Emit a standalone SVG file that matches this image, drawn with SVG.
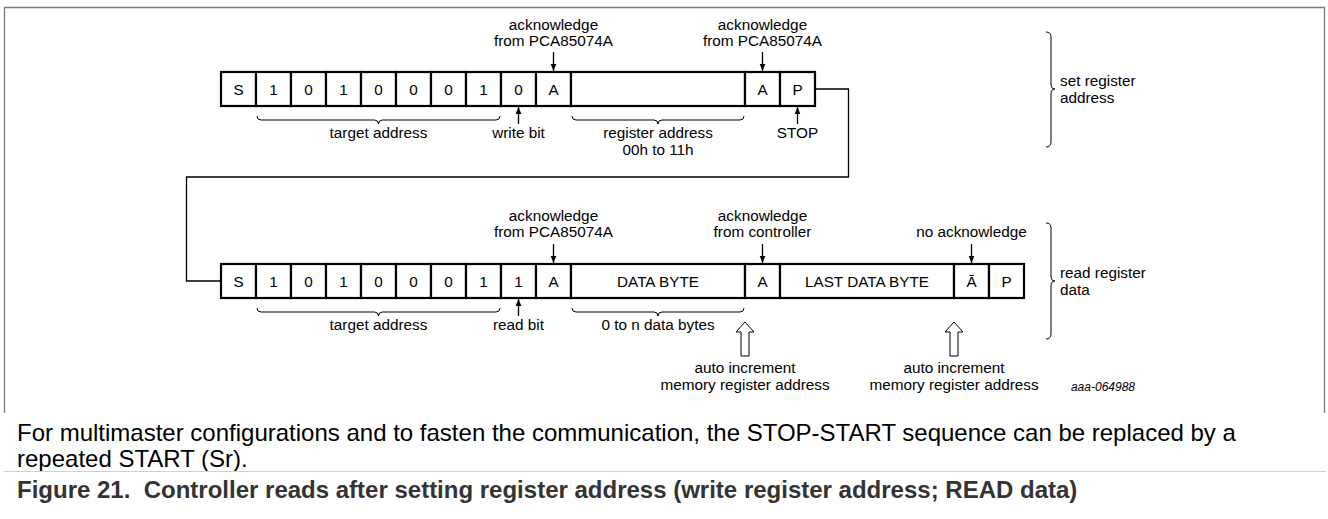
<svg xmlns="http://www.w3.org/2000/svg" width="1328" height="519" viewBox="0 0 1328 519">
<defs>
<style>
.t{font-family:"Liberation Sans",Arial,Helvetica,sans-serif;font-size:15.3px;fill:#000}
.c{text-anchor:middle}
.cell{fill:#fff;stroke:#000;stroke-width:2.2}
.ln{fill:none;stroke:#000;stroke-width:1.3}
.br{fill:none;stroke:#000;stroke-width:1}
.ho{fill:#fff;stroke:#000;stroke-width:1}
.body{font-family:"Liberation Sans",Arial,Helvetica,sans-serif;font-size:24px;fill:#000}
.cap{font-family:"Liberation Sans",Arial,Helvetica,sans-serif;font-size:24px;font-weight:bold;fill:#333;white-space:pre}
</style>
<marker id="ah" viewBox="0 0 8 8" refX="8" refY="4" markerWidth="7" markerHeight="7" markerUnits="userSpaceOnUse" orient="auto"><path d="M0,0.8 L8,4 L0,7.2 z" fill="#000"/></marker>
</defs>
<rect width="1328" height="519" fill="#fff"/>
<path d="M4.5,413 V7.5 H1324.5 V413" fill="none" stroke="#7a7a7a" stroke-width="1.3"/>

<g id="connectors">
<path class="ln" d="M815,89 H848.5 V177 H186.5 V281 H221"/>
<line class="ln" x1="553.5" y1="52" x2="553.5" y2="71" marker-end="url(#ah)"/>
<line class="ln" x1="762.5" y1="52" x2="762.5" y2="71" marker-end="url(#ah)"/>
<line class="ln" x1="518.5" y1="124" x2="518.5" y2="107" marker-end="url(#ah)"/>
<line class="ln" x1="797.5" y1="124" x2="797.5" y2="107" marker-end="url(#ah)"/>
<line class="ln" x1="553.5" y1="244" x2="553.5" y2="263" marker-end="url(#ah)"/>
<line class="ln" x1="762.5" y1="244" x2="762.5" y2="263" marker-end="url(#ah)"/>
<line class="ln" x1="971.5" y1="244" x2="971.5" y2="263" marker-end="url(#ah)"/>
<line class="ln" x1="518.5" y1="316" x2="518.5" y2="299" marker-end="url(#ah)"/>
<path class="br" d="M257,116 q0,4 4,4 H374.5 q4,0 4,4 q0,-4 4,-4 H496 q4,0 4,-4"/>
<path class="br" d="M572,116 q0,4 4,4 H654 q4,0 4,4 q0,-4 4,-4 H740 q4,0 4,-4"/>
<path class="br" d="M257,308 q0,4 4,4 H374.5 q4,0 4,4 q0,-4 4,-4 H496 q4,0 4,-4"/>
<path class="br" d="M572,308 q0,4 4,4 H654 q4,0 4,4 q0,-4 4,-4 H740 q4,0 4,-4"/>
<path class="br" d="M1046,32 q5,0 5,5 V84 q0,5 4,5 q-4,0 -4,5 V142 q0,5 -5,5"/>
<path class="br" d="M1046,223 q5,0 5,5 V276 q0,5 4,5 q-4,0 -4,5 V334 q0,5 -5,5"/>
<polygon class="ho" points="745,322 754,332 749,332 749,356 741,356 741,332 736,332"/>
<polygon class="ho" points="954,322 963,332 958,332 958,356 950,356 950,332 945,332"/>
</g>

<g id="row1">
<g id="r1-S"><rect class="cell" x="221" y="72" width="35" height="34"/><text class="t c" x="238.5" y="94.5">S</text></g>
<g id="r1-b6"><rect class="cell" x="256" y="72" width="35" height="34"/><text class="t c" x="273.5" y="94.5">1</text></g>
<g id="r1-b5"><rect class="cell" x="291" y="72" width="35" height="34"/><text class="t c" x="308.5" y="94.5">0</text></g>
<g id="r1-b4"><rect class="cell" x="326" y="72" width="35" height="34"/><text class="t c" x="343.5" y="94.5">1</text></g>
<g id="r1-b3"><rect class="cell" x="361" y="72" width="35" height="34"/><text class="t c" x="378.5" y="94.5">0</text></g>
<g id="r1-b2"><rect class="cell" x="396" y="72" width="35" height="34"/><text class="t c" x="413.5" y="94.5">0</text></g>
<g id="r1-b1"><rect class="cell" x="431" y="72" width="35" height="34"/><text class="t c" x="448.5" y="94.5">0</text></g>
<g id="r1-b0"><rect class="cell" x="466" y="72" width="35" height="34"/><text class="t c" x="483.5" y="94.5">1</text></g>
<g id="r1-rw"><rect class="cell" x="501" y="72" width="35" height="34"/><text class="t c" x="518.5" y="94.5">0</text></g>
<g id="r1-A1"><rect class="cell" x="536" y="72" width="35" height="34"/><text class="t c" x="553.5" y="94.5">A</text></g>
<g id="r1-reg"><rect class="cell" x="571" y="72" width="174" height="34"/></g>
<g id="r1-A2"><rect class="cell" x="745" y="72" width="35" height="34"/><text class="t c" x="762.5" y="94.5">A</text></g>
<g id="r1-P"><rect class="cell" x="780" y="72" width="35" height="34"/><text class="t c" x="797.5" y="94.5">P</text></g>
</g>

<g id="row2">
<g id="r2-S"><rect class="cell" x="221" y="264" width="35" height="34"/><text class="t c" x="238.5" y="286.5">S</text></g>
<g id="r2-b6"><rect class="cell" x="256" y="264" width="35" height="34"/><text class="t c" x="273.5" y="286.5">1</text></g>
<g id="r2-b5"><rect class="cell" x="291" y="264" width="35" height="34"/><text class="t c" x="308.5" y="286.5">0</text></g>
<g id="r2-b4"><rect class="cell" x="326" y="264" width="35" height="34"/><text class="t c" x="343.5" y="286.5">1</text></g>
<g id="r2-b3"><rect class="cell" x="361" y="264" width="35" height="34"/><text class="t c" x="378.5" y="286.5">0</text></g>
<g id="r2-b2"><rect class="cell" x="396" y="264" width="35" height="34"/><text class="t c" x="413.5" y="286.5">0</text></g>
<g id="r2-b1"><rect class="cell" x="431" y="264" width="35" height="34"/><text class="t c" x="448.5" y="286.5">0</text></g>
<g id="r2-b0"><rect class="cell" x="466" y="264" width="35" height="34"/><text class="t c" x="483.5" y="286.5">1</text></g>
<g id="r2-rw"><rect class="cell" x="501" y="264" width="35" height="34"/><text class="t c" x="518.5" y="286.5">1</text></g>
<g id="r2-A1"><rect class="cell" x="536" y="264" width="35" height="34"/><text class="t c" x="553.5" y="286.5">A</text></g>
<g id="r2-data"><rect class="cell" x="571" y="264" width="174" height="34"/><text class="t c" x="658" y="286.5">DATA BYTE</text></g>
<g id="r2-A2"><rect class="cell" x="745" y="264" width="35" height="34"/><text class="t c" x="762.5" y="286.5">A</text></g>
<g id="r2-last"><rect class="cell" x="780" y="264" width="174" height="34"/><text class="t c" x="867" y="286.5">LAST DATA BYTE</text></g>
<g id="r2-NA"><rect class="cell" x="954" y="264" width="35" height="34"/><text class="t c" x="971.5" y="286.5">Ā</text></g>
<g id="r2-P"><rect class="cell" x="989" y="264" width="35" height="34"/><text class="t c" x="1006.5" y="286.5">P</text></g>
</g>

<g id="labels">
<text class="t c" x="553.5" y="30">acknowledge</text>
<text class="t c" x="553.5" y="46">from PCA85074A</text>
<text class="t c" x="762.5" y="30">acknowledge</text>
<text class="t c" x="762.5" y="46">from PCA85074A</text>
<text class="t c" x="378.5" y="138">target address</text>
<text class="t c" x="518.5" y="138">write bit</text>
<text class="t c" x="658" y="138">register address</text>
<text class="t c" x="658" y="155">00h to 11h</text>
<text class="t c" x="797.5" y="138">STOP</text>
<text class="t" x="1060" y="86">set register</text>
<text class="t" x="1060" y="103">address</text>
<text class="t c" x="553.5" y="221">acknowledge</text>
<text class="t c" x="553.5" y="237">from PCA85074A</text>
<text class="t c" x="762.5" y="221">acknowledge</text>
<text class="t c" x="762.5" y="237">from controller</text>
<text class="t c" x="971.5" y="237">no acknowledge</text>
<text class="t" x="1060" y="278">read register</text>
<text class="t" x="1060" y="295">data</text>
<text class="t c" x="378.5" y="330">target address</text>
<text class="t c" x="518.5" y="330">read bit</text>
<text class="t c" x="658" y="330">0 to n data bytes</text>
<text class="t c" x="745" y="373">auto increment</text>
<text class="t c" x="745" y="390">memory register address</text>
<text class="t c" x="954" y="373">auto increment</text>
<text class="t c" x="954" y="390">memory register address</text>
<text class="t" x="1135" y="391" style="font-size:12px;font-style:italic;text-anchor:end">aaa-064988</text>
</g>

<g id="caption">
<text class="body" x="17" y="441">For multimaster configurations and to fasten the communication, the STOP-START sequence can be replaced by a</text>
<text class="body" x="17" y="467">repeated START (Sr).</text>
<line x1="4" y1="471.5" x2="1326" y2="471.5" stroke="#d0d0d0" stroke-width="1"/>
<text class="cap" x="17" y="498" xml:space="preserve">Figure 21.  Controller reads after setting register address (write register address; READ data)</text>
</g>
</svg>
